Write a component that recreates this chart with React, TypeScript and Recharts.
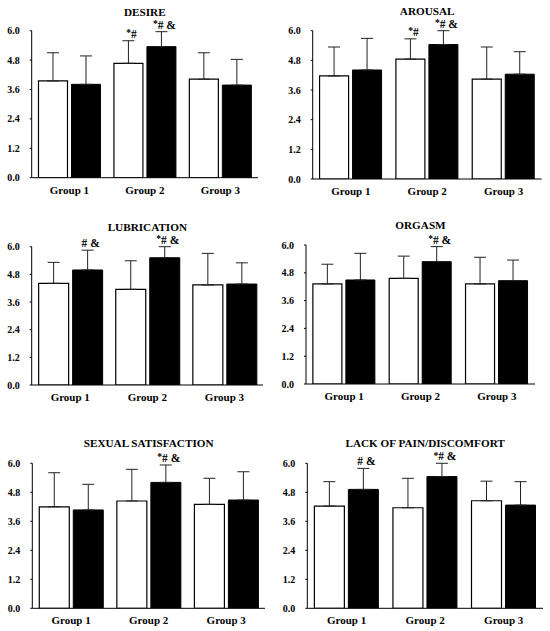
import { BarChart, Bar, XAxis, YAxis, ErrorBar, LabelList } from 'recharts';

const groups = ['Group 1', 'Group 2', 'Group 3'];
const yTicks = [0, 1.2, 2.4, 3.6, 4.8, 6.0];

const titles = [
  'DESIRE',
  'AROUSAL',
  'LUBRICATION',
  'ORGASM',
  'SEXUAL SATISFACTION',
  'LACK OF PAIN/DISCOMFORT',
];

// mean and SD of the white (open) bars, one row per panel
const whiteMeans = [
  [3.95, 4.67, 4.02],
  [4.17, 4.85, 4.04],
  [4.41, 4.15, 4.34],
  [4.32, 4.56, 4.32],
  [4.2, 4.44, 4.3],
  [4.23, 4.16, 4.45],
];
const whiteSds = [
  [1.15, 0.92, 1.08],
  [1.17, 0.82, 1.3],
  [0.91, 1.24, 1.37],
  [0.85, 0.96, 1.15],
  [1.41, 1.31, 1.08],
  [1.01, 1.22, 0.81],
];

// mean and SD of the black (filled) bars
const blackMeans = [
  [3.81, 5.35, 3.78],
  [4.41, 5.44, 4.24],
  [4.99, 5.52, 4.38],
  [4.49, 5.28, 4.46],
  [4.07, 5.21, 4.48],
  [4.92, 5.45, 4.27],
];
const blackSds = [
  [1.16, 0.61, 1.05],
  [1.28, 0.56, 0.91],
  [0.86, 0.48, 0.92],
  [1.15, 0.65, 0.89],
  [1.06, 0.72, 1.17],
  [0.87, 0.55, 0.97],
];

// significance marks
const whiteMarks = [
  ['', '*#', ''],
  ['', '*#', ''],
  ['', '', ''],
  ['', '', ''],
  ['', '', ''],
  ['', '', ''],
];
const blackMarks = [
  ['', '*# &', ''],
  ['', '*# &', ''],
  ['# &', '*# &', ''],
  ['', '*# &', ''],
  ['', '*# &', ''],
  ['# &', '*# &', ''],
];

const boxes = [
  { left: 0, top: 0, h: 205, pl: 31.7, pr: 258, pt: 30.7, pb: 177.7, ty: 11.7 },
  { left: 275, top: 0, h: 205, pl: 37.7, pr: 266.7, pt: 30.7, pb: 179, ty: 11 },
  { left: 0, top: 205, h: 205, pl: 31.7, pr: 263, pt: 41.7, pb: 180, ty: 22 },
  { left: 275, top: 205, h: 205, pl: 31, pr: 260, pt: 40, pb: 179, ty: 20 },
  { left: 0, top: 420, h: 211, pl: 32.3, pr: 265, pt: 43.3, pb: 188.3, ty: 23 },
  { left: 275, top: 420, h: 211, pl: 32.3, pr: 268, pt: 43.3, pb: 188.3, ty: 23 },
];

const FONT = '"Liberation Serif", "DejaVu Serif", serif';

function makeMark(meanKey: string, sdKey: string, data: any[]) {
  return (props: any) => {
    const { x, y, width, height, value, index } = props;
    if (!value) return null;
    const row = data[index];
    const perUnit = height / row[meanKey];
    const top = y - row[sdKey] * perUnit;
    const cx = x + width / 2 + 3;
    const hasStar = String(value).startsWith('*');
    const rest = hasStar ? String(value).slice(1) : String(value);
    return (
      <text
        x={cx}
        y={top - 3}
        textAnchor="middle"
        fontFamily={FONT}
        fontWeight={700}
        fontSize={11.5}
        fill="#000"
      >
        {hasStar && (
          <tspan fontSize={9.5} dy={-1.5}>
            *
          </tspan>
        )}
        <tspan dy={hasStar ? 1.5 : 0}>{rest}</tspan>
      </text>
    );
  };
}

function Panel({ i }: { i: number }) {
  const b = boxes[i];
  const data = groups.map((g, k) => ({
    group: g,
    white: whiteMeans[i][k],
    whiteErr: [0, whiteSds[i][k]],
    whiteSd: whiteSds[i][k],
    whiteMark: whiteMarks[i][k],
    black: blackMeans[i][k],
    blackErr: [0, blackSds[i][k]],
    blackSd: blackSds[i][k],
    blackMark: blackMarks[i][k],
  }));

  return (
    <div style={{ position: 'absolute', left: b.left, top: b.top, width: 275, height: b.h }}>
      <div
        style={{
          position: 'absolute',
          left: b.pl - 20,
          width: b.pr - b.pl + 40,
          top: b.ty - 6,
          lineHeight: '12px',
          textAlign: 'center',
          fontFamily: FONT,
          fontWeight: 700,
          fontSize: 11.2,
          color: '#000',
          whiteSpace: 'nowrap',
        }}
      >
        {titles[i]}
      </div>
      <BarChart
        width={275}
        height={b.h}
        data={data}
        margin={{ top: b.pt, right: 275 - b.pr, bottom: 0, left: 0 }}
        barCategoryGap="9%"
        barGap={4}
      >
        <XAxis
          dataKey="group"
          height={b.h - b.pb}
          tickLine={false}
          axisLine={{ stroke: '#000', strokeWidth: 1 }}
          tick={{ fontSize: 11, fontWeight: 700, fill: '#000', fontFamily: FONT }}
        />
        <YAxis
          width={b.pl}
          domain={[0, 6]}
          ticks={yTicks}
          allowDataOverflow
          tickFormatter={(v) => Number(v).toFixed(1)}
          tickSize={2}
          tickMargin={10}
          axisLine={{ stroke: '#000', strokeWidth: 1 }}
          tickLine={{ stroke: '#000' }}
          tick={{ fontSize: 10, fontWeight: 700, fill: '#000', fontFamily: FONT }}
        />
        <Bar dataKey="white" fill="#fff" stroke="#000" strokeWidth={1.2} isAnimationActive={false}>
          <ErrorBar dataKey="whiteErr" width={6} stroke="#222" strokeWidth={1} direction="y" />
          <LabelList dataKey="whiteMark" content={makeMark('white', 'whiteSd', data)} />
        </Bar>
        <Bar dataKey="black" fill="#000" stroke="#000" strokeWidth={1} isAnimationActive={false}>
          <ErrorBar dataKey="blackErr" width={6} stroke="#222" strokeWidth={1} direction="y" />
          <LabelList dataKey="blackMark" content={makeMark('black', 'blackSd', data)} />
        </Bar>
      </BarChart>
    </div>
  );
}

export default function App() {
  return (
    <div
      style={{
        position: 'absolute',
        left: 0,
        top: 0,
        width: 550,
        height: 631,
        background: '#fff',
        overflow: 'hidden',
      }}
    >
      {titles.map((_, i) => (
        <Panel key={i} i={i} />
      ))}
    </div>
  );
}
